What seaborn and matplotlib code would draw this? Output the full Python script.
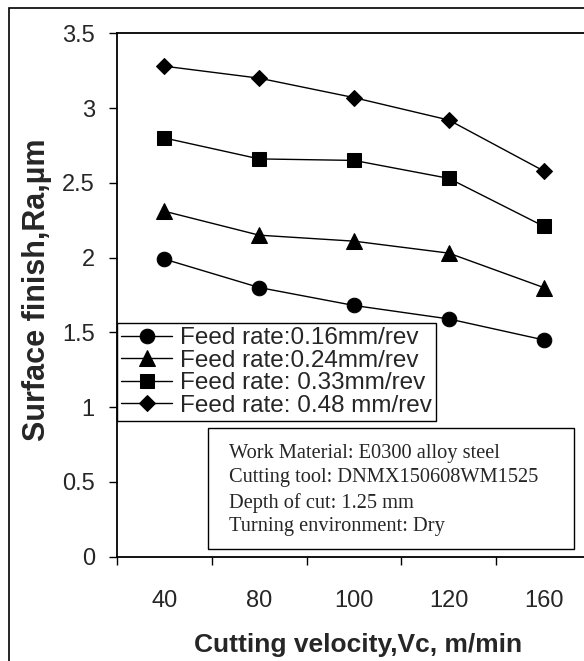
import numpy as np
import matplotlib
import matplotlib.pyplot as plt
from matplotlib.patches import Rectangle
import seaborn as sns
import pandas as pd

# cutting velocity (m/min) categories
velocity = ["40", "80", "100", "120", "160"]

# surface finish Ra (um) for each feed rate
ra_016 = [1.99, 1.80, 1.68, 1.59, 1.45]
ra_024 = [2.31, 2.15, 2.11, 2.03, 1.80]
ra_033 = [2.80, 2.66, 2.65, 2.53, 2.21]
ra_048 = [3.28, 3.20, 3.07, 2.92, 2.58]

feed_labels = ["Feed rate:0.16mm/rev", "Feed rate:0.24mm/rev",
               "Feed rate: 0.33mm/rev", "Feed rate: 0.48 mm/rev"]
marker_list = ["o", "^", "s", "D"]
marker_sizes = [10.5, 11.5, 10.5, 8.5]

info_lines = ["Work Material: E0300 alloy steel",
              "Cutting tool: DNMX150608WM1525",
              "Depth of cut: 1.25 mm",
              "Turning environment: Dry"]

yticks = [0, 0.5, 1, 1.5, 2, 2.5, 3, 3.5]

rows = []
for lab, vals in zip(feed_labels, [ra_016, ra_024, ra_033, ra_048]):
    for v, r in zip(velocity, vals):
        rows.append({"velocity": v, "ra": r, "feed": lab})
df = pd.DataFrame(rows)

sns.set_style("white")
plt.rcParams['font.family'] = ['Liberation Sans', 'DejaVu Sans']

fig = plt.figure(figsize=(5.84, 6.61), dpi=100)
ax = fig.add_axes([117/584, 104.3/661, 474/584, 523.4/661])

sns.lineplot(data=df, x="velocity", y="ra", hue="feed", style="feed",
             markers=dict(zip(feed_labels, marker_list)), dashes=False,
             palette=["black"]*4, sort=False, legend=False, ax=ax,
             linewidth=1.0, markeredgecolor="black")

for ln, ms in zip(ax.lines, marker_sizes):
    ln.set_markersize(ms)
    ln.set_color("black")
    ln.set_markerfacecolor("black")

ax.set_xlim(-0.5, 4.5)
ax.set_ylim(0, 3.5)

# x: labels at category centers, tick marks on boundaries
ax.set_xticks(range(len(velocity)))
ax.set_xticklabels(velocity)
ax.set_xticks(np.arange(-0.5, len(velocity), 1.0), minor=True)
ax.tick_params(axis="x", which="major", length=0, pad=24, labelsize=17)
ax.tick_params(axis="x", which="minor", length=6, width=1, direction="out",
               bottom=True, color="black")

ax.set_yticks(yticks)
ax.set_yticklabels([f"{v:g}" for v in yticks])
ax.tick_params(axis="y", which="major", length=6, width=1, direction="out",
               left=True, pad=10, labelsize=17, color="black")

for side in ["left", "bottom", "top", "right"]:
    ax.spines[side].set_color("black")
    ax.spines[side].set_linewidth(1.3)

ax.set_xlabel("Cutting velocity,Vc, m/min", fontsize=19, fontweight="bold")
ax.set_ylabel("Surface finish,Ra,\u00b5m", fontsize=22, fontweight="bold")
ax.xaxis.set_label_coords(0.509, -0.168)
ax.xaxis.label.set_va("center")
ax.yaxis.set_label_coords(-0.169, 0.51)
ax.yaxis.label.set_va("center")

leg = ax.legend(handles=ax.lines[:4], labels=feed_labels, loc="upper left",
                bbox_to_anchor=(0, 0.4465), borderaxespad=0, fontsize=17.5,
                frameon=True, fancybox=False, framealpha=1, edgecolor="black",
                labelspacing=0.02, handlelength=2.1, handletextpad=0.3,
                borderpad=0.18)
leg.get_frame().set_linewidth(1.0)

# info box
ax.add_patch(Rectangle((0.1914, 0.0147), 0.9648-0.1914, 0.2453-0.0147,
                       transform=ax.transAxes, fill=True, facecolor="white",
                       edgecolor="black", linewidth=1.0, zorder=5))
for t, yy in zip(info_lines, [0.198, 0.1506, 0.1028, 0.057]):
    ax.text(0.2363, yy, t, transform=ax.transAxes, fontsize=14.7,
            family=["Liberation Serif", "DejaVu Serif"], va="center",
            ha="left", zorder=6)

# outer frame of the figure
fig.patches.append(Rectangle((9/584, -0.05), 1.1, 1 - 8/661 + 0.05,
                             transform=fig.transFigure, fill=False,
                             edgecolor="black", linewidth=1.2))

fig.savefig("out.png", dpi=100)
